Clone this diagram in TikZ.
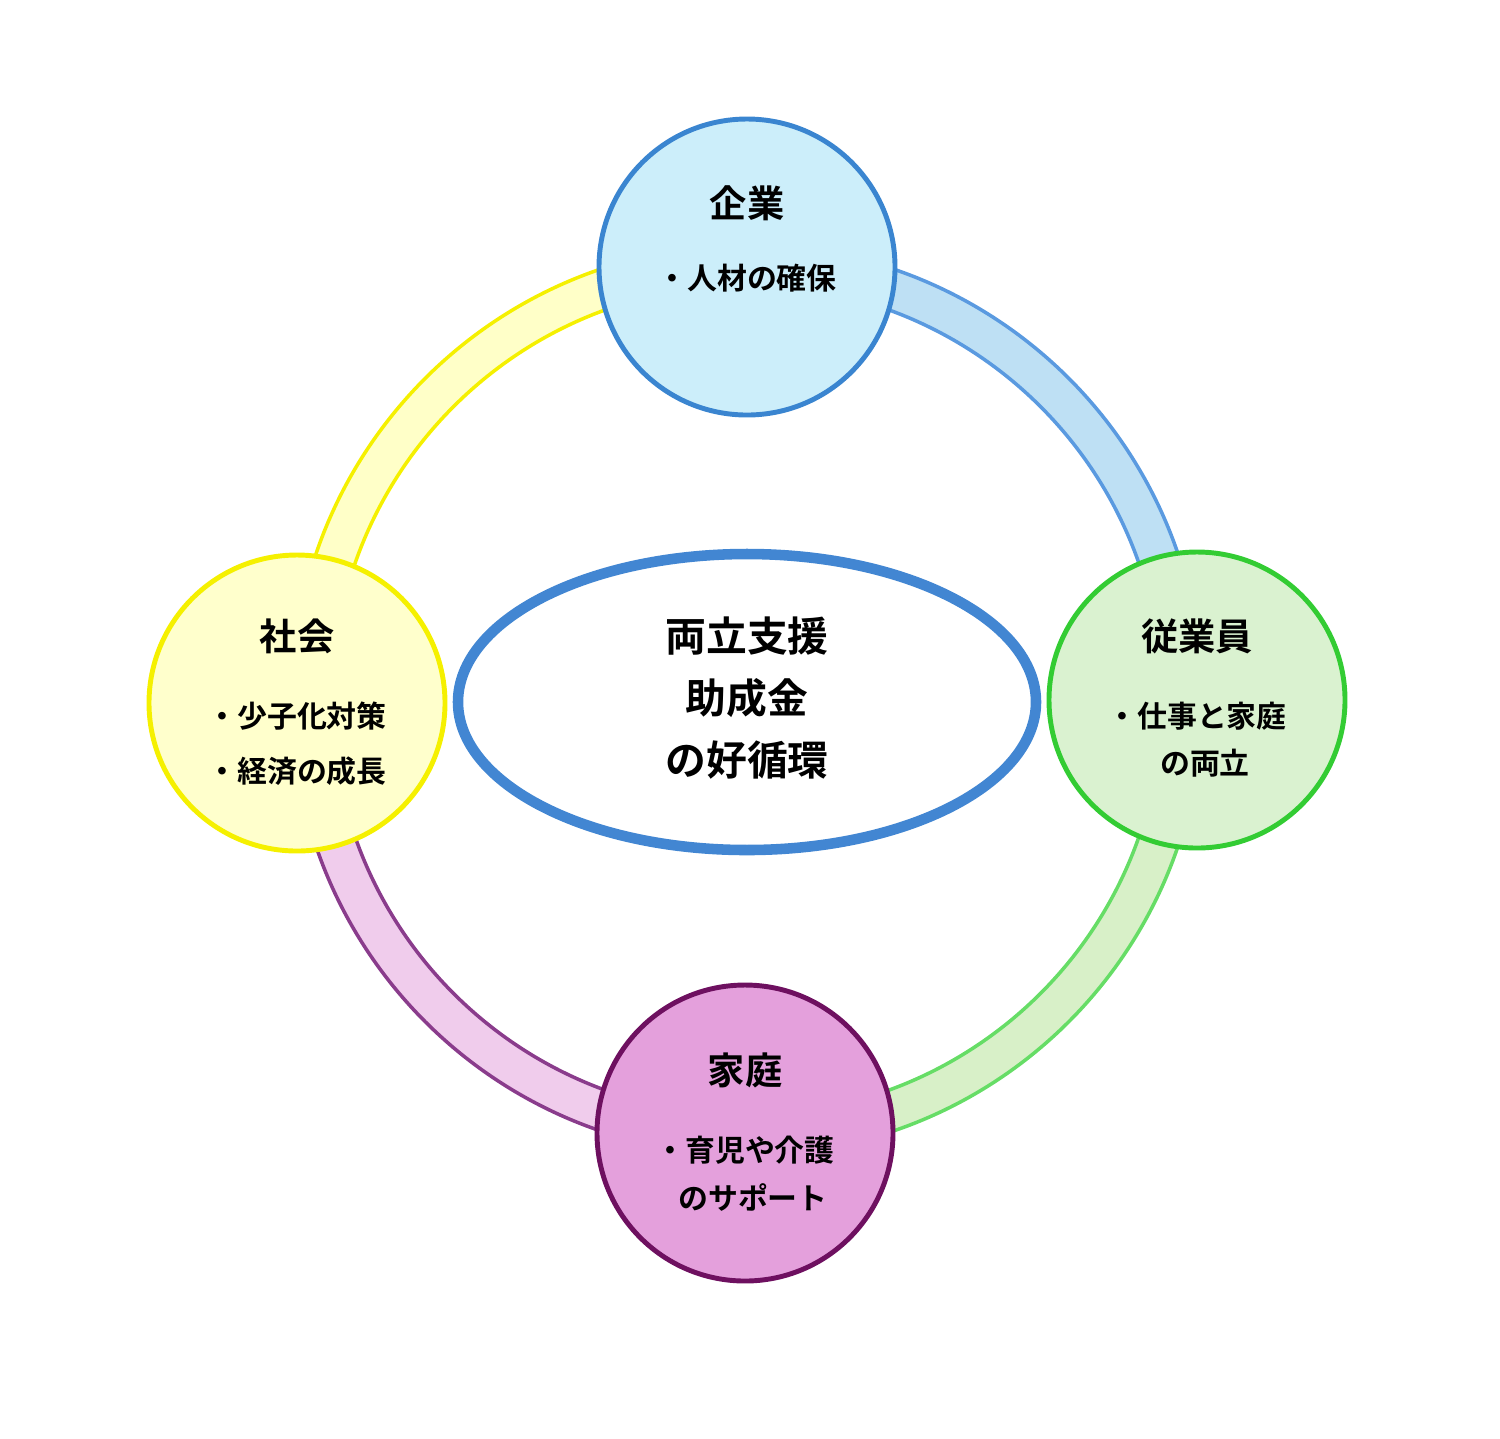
\documentclass[tikz,border=0pt]{standalone}
\usepackage{fontspec}
\usetikzlibrary{shapes.geometric}
\setmainfont{Noto Sans CJK JP}[BoldFont={Noto Sans CJK JP Bold}]
\begin{document}
\begin{tikzpicture}[x=0.01cm,y=-0.01cm,
 band/.style={line width=1pt},
 circ/.style={circle,minimum size=296*0.01cm,line width=1.4pt,inner sep=0},
 ttl/.style={font=\bfseries\fontsize{10.6}{12}\selectfont},
 bd/.style={font=\bfseries\fontsize{8.5}{10}\selectfont,align=left}]
\useasboundingbox (0,0) rectangle (1500,1438);
\definecolor{yb}{HTML}{F5F000}
\filldraw[band,draw=yb,fill={rgb,255:red,255;green,255;blue,200}] (747,245) arc[start angle=-90,end angle=-180,radius=455] -- (332,700) arc[start angle=-180,end angle=-90,radius=415] -- cycle;
\filldraw[band,draw={rgb,255:red,90;green,154;blue,224},fill={rgb,255:red,190;green,224;blue,244}] (1202,700) arc[start angle=0,end angle=-90,radius=455] -- (747,285) arc[start angle=-90,end angle=0,radius=415] -- cycle;
\filldraw[band,draw={rgb,255:red,102;green,221;blue,102},fill={rgb,255:red,216;green,240;blue,200}] (1202,700) arc[start angle=0,end angle=90,radius=455] -- (747,1115) arc[start angle=90,end angle=0,radius=415] -- cycle;
\filldraw[band,draw={rgb,255:red,138;green,60;blue,140},fill={rgb,255:red,240;green,204;blue,236}] (292,700) arc[start angle=180,end angle=90,radius=455] -- (747,1115) arc[start angle=90,end angle=180,radius=415] -- cycle;
\node[circ,draw={rgb,255:red,58;green,133;blue,208},fill={rgb,255:red,204;green,238;blue,250}] (top) at (747,267) {};
\node[circ,draw={rgb,255:red,51;green,204;blue,51},fill={rgb,255:red,218;green,242;blue,208}] (right) at (1197,700) {};
\node[circ,draw={rgb,255:red,110;green,16;blue,96},fill={rgb,255:red,228;green,160;blue,220}] (bot) at (745,1133) {};
\node[circ,draw=yb,fill={rgb,255:red,255;green,255;blue,204}] (left) at (297,703) {};
\node[ellipse,draw={rgb,255:red,66;green,134;blue,210},line width=3pt,minimum width=578*0.01cm,minimum height=296*0.01cm,fill=white] (mid) at (747,702) {};
\node[ttl] (t1) at (747,203) {企業};
\node[bd] (t2) at (747,278) {・人材の確保};
\node[ttl] (r1) at (1197,636) {従業員};
\node[bd] (r2) at (1197,716) {・仕事と家庭};
\node[bd] (r3) at (1205,763) {の両立};
\node[ttl] (l1) at (297,636) {社会};
\node[bd] (l2) at (297,716) {・少子化対策};
\node[bd] (l3) at (297,771) {・経済の成長};
\node[ttl] (b1) at (745,1070) {家庭};
\node[bd] (b2) at (745,1150) {・育児や介護};
\node[bd] (b3) at (753,1197) {のサポート};
\node[font=\bfseries\fontsize{11.6}{17.6}\selectfont,align=center] (mtxt) at (747,698) {両立支援\\助成金\\の好循環};
\end{tikzpicture}
\end{document}
